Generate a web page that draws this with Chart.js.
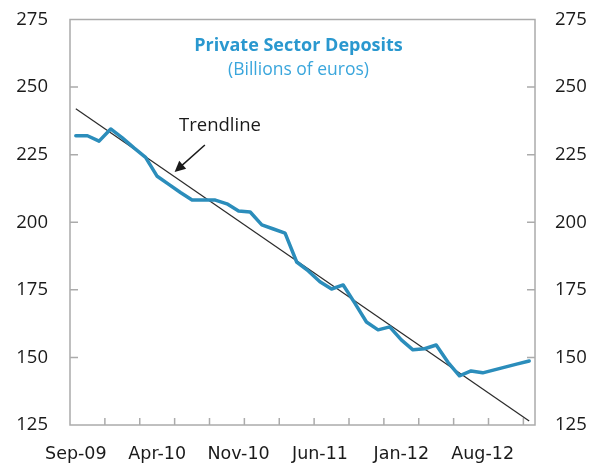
<!DOCTYPE html>
<html>
<head>
<meta charset="utf-8">
<script src="https://cdn.jsdelivr.net/npm/chart.js@4.4.0/dist/chart.umd.min.js"></script>
<style>
    html, body { margin: 0; padding: 0; background: #fff; }
    #wrap { width: 599px; height: 464px; }
</style>
</head>
<body>
<div id="wrap"><canvas id="depositsChart" width="599" height="464"></canvas></div>
<script>
// Monthly categories, Sep-09 to Dec-12
const months = [
    'Sep-09', 'Oct-09', 'Nov-09', 'Dec-09', 'Jan-10', 'Feb-10', 'Mar-10', 'Apr-10',
    'May-10', 'Jun-10', 'Jul-10', 'Aug-10', 'Sep-10', 'Oct-10', 'Nov-10', 'Dec-10',
    'Jan-11', 'Feb-11', 'Mar-11', 'Apr-11', 'May-11', 'Jun-11', 'Jul-11', 'Aug-11',
    'Sep-11', 'Oct-11', 'Nov-11', 'Dec-11', 'Jan-12', 'Feb-12', 'Mar-12', 'Apr-12',
    'May-12', 'Jun-12', 'Jul-12', 'Aug-12', 'Sep-12', 'Oct-12', 'Nov-12', 'Dec-12'
];

// Private sector deposits, billions of euros
const deposits = [
    232, 232, 230, 234.5, 231.2, 227.5, 224, 217,
    214, 211, 208.2, 208.2, 208.2, 206.8, 204.2, 203.8,
    199, 197.5, 196, 185.3, 182, 178, 175.3, 176.8,
    170.1, 163.1, 160.2, 161.3, 156.5, 152.8, 153.2, 154.6,
    148.3, 143.2, 145, 144.3, 145.4, 146.5, 147.6, 148.7
];

// Trendline end points (first and last month)
const trendStart = 242;
const trendEnd = 126.5;

const yTicks = [125, 150, 175, 200, 225, 250, 275];
const labelEvery = 7;
const tickMarkEvery = 3;

const trendline = months.map((_, i) => {
    if (i === 0) return trendStart;
    if (i === months.length - 1) return trendEnd;
    return null;
});

const tickFont = { family: '"Open Sans"', size: 18.5 };
const textColor = '#1a1a1a';

// frame, inward tick marks, title and the trendline note
const decorPlugin = {
    id: 'decor',
    afterDraw(chart) {
        const ctx = chart.ctx;
        const area = chart.chartArea;
        const xs = chart.scales.x;
        const ys = chart.scales.y;
        ctx.save();

        ctx.strokeStyle = '#ababab';
        ctx.lineWidth = 1.5;
        ctx.strokeRect(area.left, area.top, area.right - area.left, area.bottom - area.top);

        ctx.beginPath();
        for (let i = tickMarkEvery; i < months.length; i += tickMarkEvery) {
            const x = (xs.getPixelForValue(i - 1) + xs.getPixelForValue(i)) / 2;
            ctx.moveTo(x, area.bottom);
            ctx.lineTo(x, area.bottom - 7);
        }
        yTicks.slice(1, -1).forEach(v => {
            const y = ys.getPixelForValue(v);
            ctx.moveTo(area.left, y);
            ctx.lineTo(area.left + 8, y);
            ctx.moveTo(area.right, y);
            ctx.lineTo(area.right - 8, y);
        });
        ctx.stroke();

        const cx = (area.left + area.right) / 2;
        ctx.textAlign = 'center';
        ctx.textBaseline = 'middle';
        ctx.fillStyle = '#2a98cf';
        ctx.font = 'bold 18px "Open Sans"';
        ctx.fillText('Private Sector Deposits', cx - 4, area.top + 26);
        ctx.fillStyle = '#3aa6dc';
        ctx.font = '17.5px "Open Sans"';
        ctx.fillText('(Billions of euros)', cx - 4, area.top + 51);

        // note with arrow pointing at the trendline
        ctx.fillStyle = textColor;
        ctx.font = '18.5px "Open Sans"';
        ctx.fillText('Trendline', xs.getPixelForValue(12.4), ys.getPixelForValue(235.6));

        const tx = xs.getPixelForValue(11.1), ty = ys.getPixelForValue(228.6);
        const hx = xs.getPixelForValue(8.5), hy = ys.getPixelForValue(218.6);
        const ang = Math.atan2(hy - ty, hx - tx);
        ctx.strokeStyle = '#1a1a1a';
        ctx.lineWidth = 1.5;
        ctx.beginPath();
        ctx.moveTo(tx, ty);
        ctx.lineTo(hx - 8 * Math.cos(ang), hy - 8 * Math.sin(ang));
        ctx.stroke();
        ctx.beginPath();
        ctx.moveTo(hx, hy);
        ctx.lineTo(hx - 12 * Math.cos(ang - 0.45), hy - 12 * Math.sin(ang - 0.45));
        ctx.lineTo(hx - 12 * Math.cos(ang + 0.45), hy - 12 * Math.sin(ang + 0.45));
        ctx.closePath();
        ctx.fillStyle = '#1a1a1a';
        ctx.fill();

        ctx.restore();
    }
};

const yAxis = (position, width, padding) => ({
    position: position,
    min: 125,
    max: 275,
    afterBuildTicks: scale => { scale.ticks = yTicks.map(v => ({ value: v })); },
    afterFit: scale => {
        scale.width = width;
        scale.paddingTop = 0;
        scale.paddingBottom = 0;
    },
    grid: { display: false, drawTicks: false },
    border: { display: false },
    ticks: { color: textColor, font: tickFont, padding: padding }
});

const ctx = document.getElementById('depositsChart').getContext('2d');
const depositsChart = new Chart(ctx, {
    type: 'line',
    data: {
        labels: months,
        datasets: [
            {
                label: 'Deposits',
                data: deposits,
                borderColor: '#2b8dbb',
                borderWidth: 3.5,
                borderJoinStyle: 'round',
                borderCapStyle: 'round',
                pointRadius: 0,
                tension: 0,
                fill: false
            },
            {
                label: 'Trendline',
                data: trendline,
                spanGaps: true,
                borderColor: '#2a2a2a',
                borderWidth: 1.2,
                pointRadius: 0,
                fill: false
            }
        ]
    },
    options: {
        responsive: false,
        animation: false,
        devicePixelRatio: 1,
        layout: { padding: { top: 19.5, left: 0, right: 0, bottom: 0 } },
        plugins: {
            legend: { display: false },
            tooltip: { enabled: false },
            title: { display: false }
        },
        scales: {
            x: {
                type: 'category',
                offset: true,
                afterFit: scale => { scale.height = 39; },
                grid: { display: false, drawTicks: false },
                border: { display: false },
                ticks: {
                    autoSkip: false,
                    maxRotation: 0,
                    padding: 19,
                    color: textColor,
                    font: { family: '"DejaVu Sans"', size: 17.5 },
                    callback: (value, index) => index % labelEvery === 0 ? months[index] : ''
                }
            },
            y: yAxis('left', 70, 22),
            y2: yAxis('right', 64, 20)
        }
    },
    plugins: [decorPlugin]
});
</script>
</body>
</html>
